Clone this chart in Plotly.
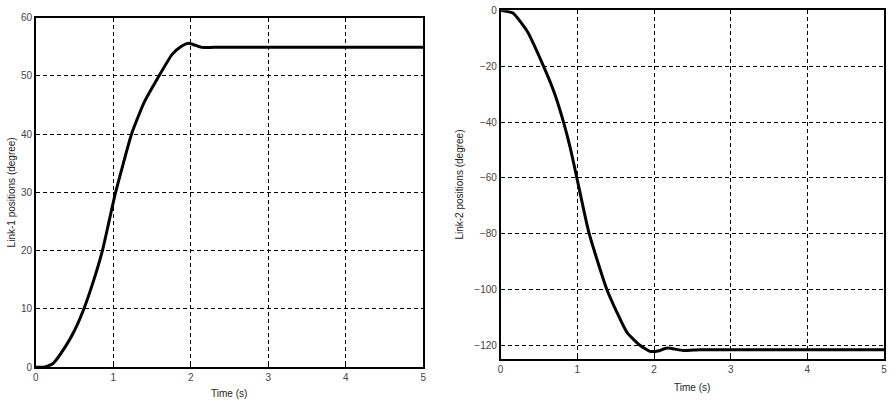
import plotly.graph_objects as go

# Link-1 data
t1 = [0, 0.1, 0.22, 0.39, 0.5, 0.62, 0.74, 0.86, 0.95, 1.03, 1.13, 1.235, 1.4, 1.59, 1.76, 1.88, 1.97, 2.05, 2.14, 2.3, 3, 4, 5]
link1 = [0, 0, 0.6, 3.7, 6.3, 10, 14.6, 20, 25.3, 30, 35, 40, 45.5, 50, 53.7, 55.1, 55.6, 55.3, 54.9, 54.9, 54.9, 54.9, 54.9]

# Link-2 data
t2 = [0, 0.16, 0.35, 0.53, 0.70, 0.83, 0.91, 0.99, 1.15, 1.39, 1.65, 1.82, 1.95, 2.05, 2.17, 2.38, 2.6, 3, 4, 5]
link2 = [0, -1, -7.7, -18.2, -29.5, -41, -49.5, -59.5, -79.5, -100.3, -115.4, -120, -122.1, -122, -120.9, -121.8, -121.5, -121.5, -121.5, -121.5]

x_ticks = [0, 1, 2, 3, 4, 5]
y1_ticks = [0, 10, 20, 30, 40, 50, 60]
y2_ticks = [0, -20, -40, -60, -80, -100, -120]

W, H = 896, 414
fig = go.Figure()
fig.add_trace(go.Scatter(x=t1, y=link1, mode="lines", line=dict(color="black", width=3, shape="spline", smoothing=0.5),
                         xaxis="x", yaxis="y", showlegend=False))
fig.add_trace(go.Scatter(x=t2, y=link2, mode="lines", line=dict(color="black", width=3, shape="spline", smoothing=0.5),
                         xaxis="x2", yaxis="y2", showlegend=False))

tickfont = dict(family="Liberation Sans, Arial", size=10, color="#444")
common = dict(showgrid=True, gridcolor="black", gridwidth=1, griddash="4px,3px",
              showline=True, linecolor="black", linewidth=1.5, mirror=True,
              ticks="inside", ticklen=3, tickcolor="black", tickfont=tickfont,
              zeroline=False)

fig.update_layout(
    width=W, height=H, margin=dict(l=0, r=0, t=0, b=0),
    paper_bgcolor="white", plot_bgcolor="white",
    xaxis=dict(domain=[33 / W, 423 / W], range=[0, 5], tickvals=x_ticks, anchor="y", **common),
    yaxis=dict(domain=[1 - 372 / H, 1 - 12 / H], range=[0, 60], tickvals=y1_ticks, anchor="x", **common),
    xaxis2=dict(domain=[501 / W, 887 / W], range=[0, 5], tickvals=x_ticks, anchor="y2", **common),
    yaxis2=dict(domain=[1 - 364 / H, 1 - 4.4 / H], range=[-125, 0], tickvals=y2_ticks, anchor="x2", **common),
)

lab = dict(family="Liberation Sans, Arial", size=10, color="#222")
anc = dict(xref="paper", yref="paper", showarrow=False, font=lab, xanchor="center", yanchor="middle")
fig.add_annotation(x=228 / W, y=1 - 399 / H, text="Time (s)", **anc)
fig.add_annotation(x=694 / W, y=1 - 393 / H, text="Time (s)", **anc)
fig.add_annotation(x=8 / W, y=1 - 192 / H, text="Link-1 positions (degree)", textangle=-90, **anc)
fig.add_annotation(x=460 / W, y=1 - 184 / H, text="Link-2 positions (degree)", textangle=-90, **anc)

fig.write_html("out.html")
